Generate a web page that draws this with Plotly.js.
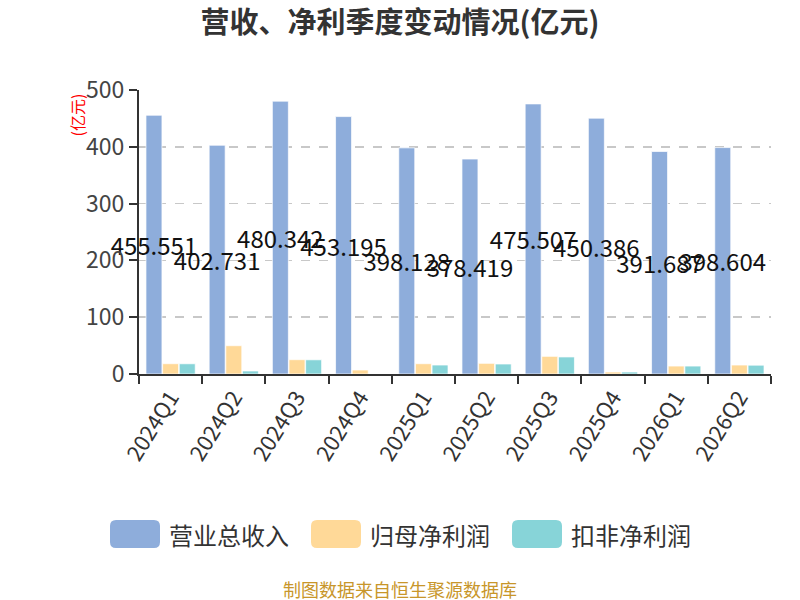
<!DOCTYPE html>
<html>
<head>
<meta charset="utf-8">
<script src="https://cdn.plot.ly/plotly-3.0.1.min.js"></script>
<style>html,body{margin:0;padding:0;background:#fff;}#chart{width:800px;height:600px;}</style>
</head>
<body>
<div id="chart"></div>
<script>
const quarters = ['2024Q1','2024Q2','2024Q3','2024Q4','2025Q1','2025Q2','2025Q3','2025Q4','2026Q1','2026Q2'];
const revenue = [455.551, 402.731, 480.342, 453.195, 398.128, 378.419, 475.507, 450.386, 391.687, 398.604];
const netProfit = [18.1, 49.8, 25.2, 7.0, 18.1, 18.8, 31.1, 3.5, 14.0, 15.8];
const deductedProfit = [18.0, 5.3, 25.0, 0, 15.8, 17.6, 30.0, 3.5, 14.0, 15.5];
const seriesNames = ['营业总收入', '归母净利润', '扣非净利润'];
const colors = ['#8EADDB', '#FFD998', '#87D4D8'];
const yTicks = [0, 100, 200, 300, 400, 500];

const FONT = '"Noto Sans CJK SC", "Noto Sans", sans-serif';
const barLine = {color: 'rgba(255,255,255,0.7)', width: 1};

// plot area in pixels
const PL = 139, PR = 771, PT = 90, PB = 374;
const px = v => (v - PL) / (PR - PL);
const py = v => (PB - v) / (PB - PT);

const traces = [
  {type: 'bar', name: seriesNames[0], x: quarters, y: revenue,
   marker: {color: colors[0], line: barLine},
   text: revenue.map(v => v.toFixed(3)), textposition: 'inside', insidetextanchor: 'middle',
   constraintext: 'none', textangle: 0, cliponaxis: false,
   insidetextfont: {family: FONT, size: 24, color: '#111'}, hoverinfo: 'x+y'},
  {type: 'bar', name: seriesNames[1], x: quarters, y: netProfit,
   marker: {color: colors[1], line: barLine}, hoverinfo: 'x+y'},
  {type: 'bar', name: seriesNames[2], x: quarters, y: deductedProfit,
   marker: {color: colors[2], line: barLine}, hoverinfo: 'x+y'}
];

// custom legend (large rounded swatches)
const legendX = [110, 311, 512];
const shapes = [];
const annotations = [];
seriesNames.forEach((n, i) => {
  const x0 = legendX[i], x1 = x0 + 50, y0 = 520, y1 = 548, r = 6;
  const P = (a, b) => `${px(a).toFixed(5)},${py(b).toFixed(5)}`;
  const path = `M${P(x0+r,y0)} L${P(x1-r,y0)} Q${P(x1,y0)} ${P(x1,y0+r)} L${P(x1,y1-r)} Q${P(x1,y1)} ${P(x1-r,y1)} L${P(x0+r,y1)} Q${P(x0,y1)} ${P(x0,y1-r)} L${P(x0,y0+r)} Q${P(x0,y0)} ${P(x0+r,y0)} Z`;
  shapes.push({type: 'path', xref: 'paper', yref: 'paper', path: path,
    fillcolor: colors[i], line: {width: 0}});
  annotations.push({xref: 'paper', yref: 'paper', x: px(x0 + 57), y: py(534),
    xanchor: 'left', yanchor: 'middle', text: n, showarrow: false,
    font: {family: FONT, size: 24, color: '#333'}});
});
annotations.push({xref: 'paper', yref: 'paper', x: px(76), y: py(92), text: '(亿元)', showarrow: false,
  textangle: -90, xanchor: 'center', yanchor: 'top', font: {family: FONT, size: 16, color: '#ff0000'}});
annotations.push({xref: 'paper', yref: 'paper', x: px(400), y: py(589), text: '制图数据来自恒生聚源数据库',
  showarrow: false, xanchor: 'center', yanchor: 'middle', font: {family: FONT, size: 18, color: '#C8962A'}});

const layout = {
  width: 800, height: 600,
  margin: {l: PL, r: 800 - PR, t: PT, b: 600 - PB},
  paper_bgcolor: '#fff', plot_bgcolor: '#fff',
  title: {text: '营收、净利季度变动情况(亿元)', x: 0.5, xanchor: 'center', y: 1 - 23 / 600, yanchor: 'middle',
    font: {family: FONT, size: 29, color: '#333', weight: 'bold'}},
  showlegend: false,
  barmode: 'group', bargap: 0.21, bargroupgap: 0.04,
  xaxis: {type: 'category', tickson: 'boundaries', ticks: 'outside', ticklen: 8, tickwidth: 2, tickcolor: '#333',
    showline: true, linecolor: '#333', linewidth: 2, tickangle: -58,
    tickfont: {family: FONT, size: 22, color: '#333'}, showgrid: false, fixedrange: true},
  yaxis: {range: [0, 500], tickvals: yTicks, ticks: 'outside', ticklen: 8, tickwidth: 2, tickcolor: '#333',
    showline: true, linecolor: '#333', linewidth: 2, zeroline: false,
    showgrid: true, gridcolor: '#c8c8c8', griddash: 'dash', gridwidth: 1.5,
    tickfont: {family: FONT, size: 23, color: '#444'}, fixedrange: true},
  shapes: shapes,
  annotations: annotations
};

Plotly.newPlot('chart', traces, layout, {displayModeBar: false, staticPlot: true});
</script>
</body>
</html>
